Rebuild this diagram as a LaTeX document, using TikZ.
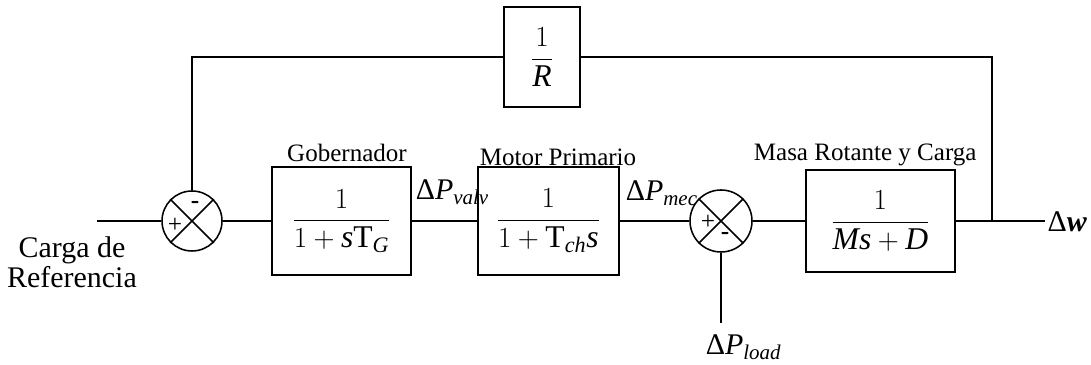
\documentclass[tikz,border=0pt]{standalone}
\usepackage{fontspec}
\setmainfont{Liberation Serif}
\usetikzlibrary{positioning}
\newcommand{\lblsize}{\fontsize{17.8}{20}\selectfont}
\newcommand{\bigsize}{\fontsize{21.3}{21.3}\selectfont}
\newcommand{\fracsize}{\fontsize{22.5}{24}\selectfont}
\newcommand{\signsize}{\fontsize{18}{18}\selectfont}

\begin{document}
\begin{tikzpicture}[line width=1.1pt,
  blk/.style={draw,inner sep=0pt,font=\fracsize},
  summ/.style={draw,circle,minimum size=1.5cm,inner sep=0pt},
  lbl/.style={font=\lblsize,inner sep=0pt},
  sig/.style={font=\signsize,inner sep=0pt}]
  \useasboundingbox (0,0) rectangle (27.275,9.125);

  % blocks and summing points
  \node[summ] (sumA) at (4.8,3.6) {};
  \node[blk,minimum width=3.475cm,minimum height=2.7cm] (gov) at (8.54,3.6)
    {$\displaystyle\frac{1}{1+\mathit{s}\mathrm{T}_{\mathit{G}}}$};
  \node[blk,minimum width=3.525cm,minimum height=2.7cm] (mot) at (13.71,3.6)
    {$\displaystyle\frac{1}{1+\mathrm{T}_{\mathit{ch}}\mathit{s}}$};
  \node[summ,minimum size=1.55cm] (sumB) at (18.025,3.6) {};
  \node[blk,minimum width=3.725cm,minimum height=2.55cm] (masa) at (22.01,3.6)
    {$\displaystyle\frac{1}{\mathit{Ms}+\mathit{D}}$};
  \node[blk,minimum width=1.9cm,minimum height=2.5cm] (invR) at (13.55,7.7)
    {$\displaystyle\frac{1}{\mathit{R}}$};

  \draw (sumA.north west) -- (sumA.south east);
  \draw (sumA.north east) -- (sumA.south west);
  \draw (sumB.north west) -- (sumB.south east);
  \draw (sumB.north east) -- (sumB.south west);

  \coordinate (inA) at (2.425,3.6);
  \coordinate (tap) at (24.8,3.6);
  \coordinate (outEnd) at (26.125,3.6);
  \coordinate (loadEnd) at (18.025,1.05);

  % signal lines
  \draw (inA) -- (sumA);
  \draw (sumA) -- (gov);
  \draw (gov) -- (mot);
  \draw (mot) -- (sumB);
  \draw (sumB) -- (masa);
  \draw (masa) -- (outEnd);
  \draw (tap) |- (invR);
  \draw (invR) -| (sumA);
  \draw (loadEnd) -- (sumB);

  % signs
  \node[sig] (pA) at (4.375,3.5) {+};
  \node[sig] (mA) at (4.875,4.0) {\textbf{-}};
  \node[sig] (pB) at (17.7,3.575) {+};
  \node[sig] (mB) at (18.125,3.225) {\textbf{-}};

  % labels
  \node[lbl] (tGov) at (8.675,5.3) {Gobernador};
  \node[lbl] (tMot) at (13.95,5.2) {Motor Primario};
  \node[lbl] (tMasa) at (21.63,5.25) {Masa Rotante y Carga};
  \node[font=\bigsize,inner sep=0pt,anchor=base west] (tValv) at (10.375,4.125)
    {Δ\textit{P}\textsubscript{\textit{valv}}};
  \node[font=\bigsize,inner sep=0pt,anchor=base west] (tMec) at (15.625,4.1)
    {Δ\textit{P}\textsubscript{\textit{mec}}};
  \node[font=\bigsize,inner sep=0pt,anchor=base west] (tLoad) at (17.625,0.25)
    {Δ\textit{P}\textsubscript{\textit{load}}};
  \node[font=\bigsize,inner sep=0pt,anchor=base west] (tOut) at (26.17,3.325)
    {Δ\textbf{\textit{w}}};
  \node[font=\bigsize,inner sep=0pt,align=center] (tRef) at (1.8,2.56)
    {Carga de\\Referencia};
\end{tikzpicture}
\end{document}
